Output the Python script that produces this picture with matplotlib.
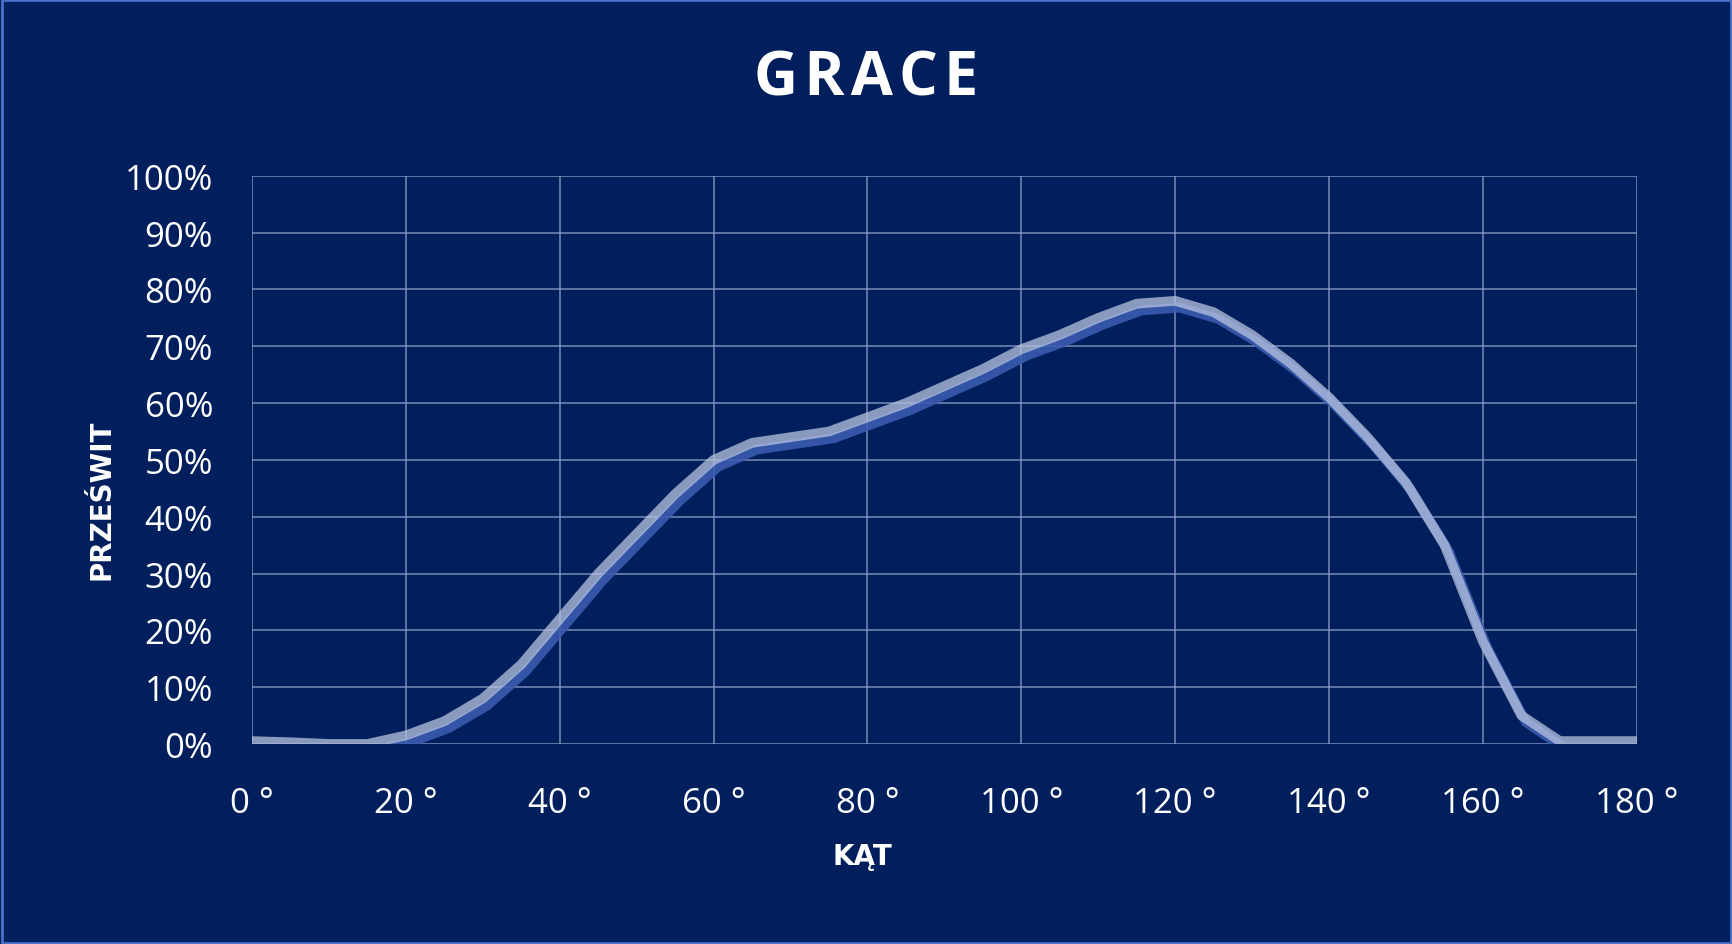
import matplotlib
matplotlib.use("Agg")
import matplotlib.pyplot as plt
from matplotlib.patches import Rectangle

angles = [0,5,10,15,20,25,30,35,40,45,50,55,60,65,70,75,80,85,90,95,100,105,110,115,120,125,130,135,140,145,150,155,160,165,170,175,180]
values = [0.5,0.3,0,0,1.5,4,8,14,22,30,37,44,50,53,54,55,57.5,60,63,66,69.5,72,75,77.5,78,76,72,67,61,54,46,35,18,5,0.5,0.5,0.5]
xticks = list(range(0,181,20))
xlabels = [f"{t} °" for t in xticks]
yticks = list(range(0,101,10))
ylabels = [f"{t}%" for t in yticks]

bg = "#001f5c"
fig = plt.figure(figsize=(17.33,9.45), dpi=100, facecolor=bg)
fig.patches.append(Rectangle((0.001,0.001),0.998,0.998,transform=fig.transFigure,fill=False,edgecolor="#4a72c8",lw=2))
ax = fig.add_axes([228/1568, 1-674/855, (1481-228)/1568, (674-160)/855])
ax.set_facecolor(bg)
ax.set_xlim(0,180); ax.set_ylim(0,100)
ax.set_xticks(xticks); ax.set_xticklabels(xlabels)
ax.set_yticks(yticks); ax.set_yticklabels(ylabels)
ax.grid(True, color="#8a9cc8", lw=1.2, alpha=0.8)
for s in ax.spines.values(): s.set_visible(False)
ax.tick_params(length=0, colors="white", labelsize=25)
ax.tick_params(axis="x", pad=30)
ax.tick_params(axis="y", pad=36)
for l in ax.get_yticklabels():
    l.set_family("Open Sans")
for l in ax.get_xticklabels():
    l.set_family("Open Sans")
for l in ax.get_yticklabels():
    l.set_horizontalalignment("right")
    l.set_x(-0.028)
ax.tick_params(axis="y", pad=0)
ax.plot([a+0.6 for a in angles],[v-1.2 for v in values], color="#3a5cb0", lw=7, alpha=0.9, solid_capstyle="round", solid_joinstyle="round")
ax.plot(angles, values, color="#b8c4e0", lw=7, alpha=0.75, solid_capstyle="round", solid_joinstyle="round")
fig.text(0.5, 1-72/855, "G R A C E".replace(" ", "\u200a"), ha="center", va="center", color="white", fontsize=44, fontweight="bold", family="Open Sans")
fig.text(780/1568, 1-775/855, "KĄT", ha="center", va="center", color="white", fontsize=20, fontweight="bold", family="DejaVu Sans")
fig.text(92/1568, 1-452/855, "PRZEŚWIT", ha="center", va="center", rotation=90, color="white", fontsize=20, fontweight="bold", family="DejaVu Sans")
fig.savefig("out.png", dpi=100, facecolor=bg)
